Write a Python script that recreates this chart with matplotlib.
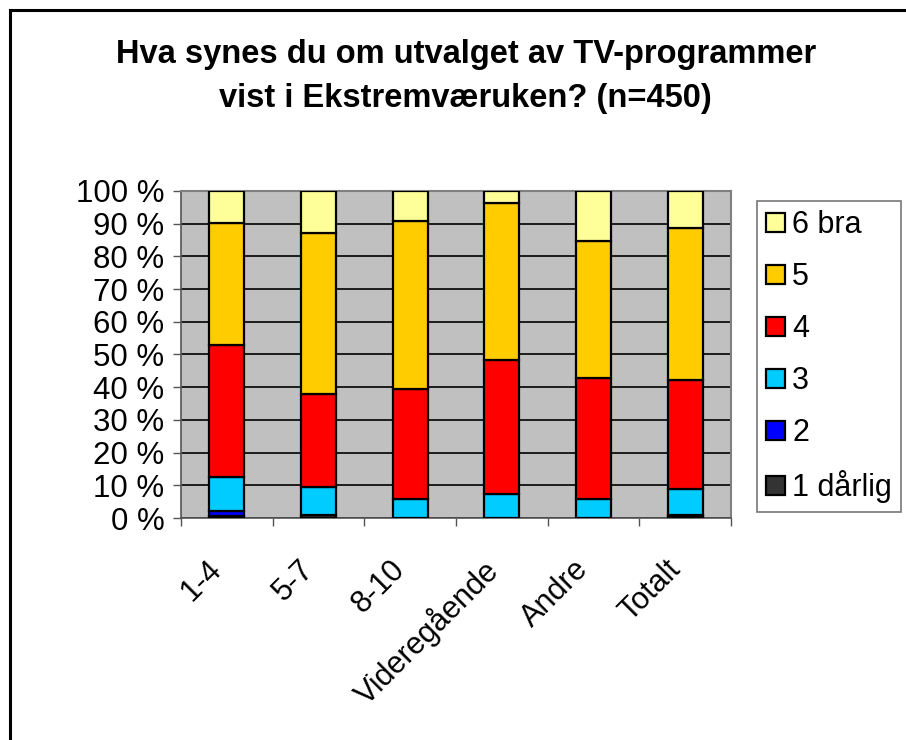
import numpy as np
import matplotlib.pyplot as plt
import matplotlib as mpl
from matplotlib.lines import Line2D
from matplotlib.transforms import ScaledTranslation

plt.rcParams['font.family'] = ['Liberation Sans', 'DejaVu Sans']

categories = ["1-4", "5-7", "8-10", "Videregående", "Andre", "Totalt"]
series_names = ["1 dårlig", "2", "3", "4", "5", "6 bra"]
colors = ["#333333", "#0000FF", "#00CCFF", "#FF0000", "#FFCC00", "#FFFF99"]

# percent per grade, bottom to top
v1 = [0.5, 0.8, 0.0, 0.0, 0.0, 0.6]
v2 = [1.5, 0.0, 0.0, 0.0, 0.0, 0.3]
v3 = [10.6, 8.8, 5.8, 7.3, 5.8, 8.0]
v4 = [40.3, 28.2, 33.6, 41.0, 37.1, 33.3]
v5 = [37.2, 49.3, 51.4, 47.9, 41.8, 46.4]
v6 = [9.9, 12.9, 9.2, 3.8, 15.3, 11.4]
values = [v1, v2, v3, v4, v5, v6]

fig = plt.figure(figsize=(9.06, 7.40), dpi=100)
ax = fig.add_axes([181/906, 1-518/740, 550/906, 327/740])
ax.set_facecolor('#C0C0C0')

x = np.arange(len(categories))
bottom = np.zeros(len(categories))
handles = []
for name, vals, col in zip(series_names, values, colors):
    vals = np.array(vals)
    b = ax.bar(x, vals, 0.38, bottom=bottom, color=col, edgecolor='black',
               linewidth=1.6, label=name, zorder=3)
    handles.append(b)
    bottom = bottom + vals

ax.set_xlim(-0.5, len(categories) - 0.5)
ax.set_ylim(0, 100)
ax.set_yticks(np.arange(0, 101, 10))
ax.set_yticklabels([f"{t} %" for t in range(0, 101, 10)], fontsize=22.5)
ax.yaxis.grid(True, color='black', linewidth=1.2, zorder=1)
ax.set_axisbelow(True)

ax.set_xticks(np.arange(-0.5, len(categories)), minor=False)
ax.set_xticklabels([])
ax.set_xticks(x, minor=True)
ax.set_xticklabels(categories, minor=True, rotation=45, ha='right',
                   rotation_mode='anchor', fontsize=22)
ax.tick_params(axis='x', which='minor', length=0, pad=26)
ax.tick_params(axis='x', which='major', length=6, width=1, color='#555555')
ax.tick_params(axis='y', length=6, width=1, color='#555555', pad=6)
for lab in ax.get_xticklabels(minor=True):
    lab.set_transform(lab.get_transform() + ScaledTranslation(-0.2, 0, fig.dpi_scale_trans))

for s in ['top', 'right']:
    ax.spines[s].set_color('#808080')
    ax.spines[s].set_linewidth(1.5)
for s in ['left', 'bottom']:
    ax.spines[s].set_color('#555555')
    ax.spines[s].set_linewidth(1.2)

fig.text(0.514, 0.897, "Hva synes du om utvalget av TV-programmer\nvist i Ekstremværuken? (n=450)",
         ha='center', va='center', fontsize=23.5, fontweight='bold', linespacing=1.55)

leg = ax.legend(handles[::-1], series_names[::-1], loc='upper left',
                bbox_to_anchor=(757/906, 1-201/740), bbox_transform=fig.transFigure,
                fontsize=22, frameon=True, fancybox=False, edgecolor='#555555',
                handlelength=0.6, handleheight=0.6, handletextpad=0.25,
                labelspacing=0.72, borderpad=0.3, borderaxespad=0)
leg.get_frame().set_linewidth(1.2)

fig.add_artist(Line2D([9.5/906, 9.5/906], [0, 1-10/740], color='black', linewidth=2.2,
                      transform=fig.transFigure))
fig.add_artist(Line2D([9.5/906, 1], [1-10/740, 1-10/740], color='black', linewidth=2.2,
                      transform=fig.transFigure))

plt.savefig('out.png', dpi=100)
